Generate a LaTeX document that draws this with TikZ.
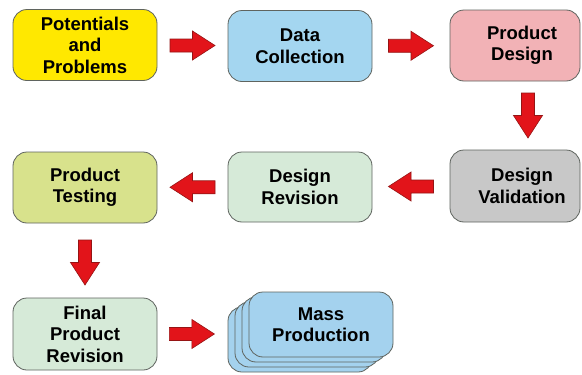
\documentclass[tikz,border=0pt]{standalone}
\usepackage{fontspec}
\setmainfont{Liberation Sans}
\usetikzlibrary{calc}
\definecolor{cyellow}{RGB}{255,232,0}
\definecolor{cblue}{RGB}{164,214,240}
\definecolor{cpink}{RGB}{242,178,182}
\definecolor{cgray}{RGB}{200,200,200}
\definecolor{colive}{RGB}{216,226,140}
\definecolor{cmint}{RGB}{214,234,216}
\definecolor{cmp}{RGB}{164,210,238}
\definecolor{cred}{RGB}{226,20,26}
\definecolor{cdred}{RGB}{150,20,20}
\definecolor{cborder}{RGB}{95,100,95}
\newcommand{\rsh}{\hspace*{14pt}}
\tikzset{
  box/.style={draw=cborder, line width=0.8pt, rounded corners=14pt,
    minimum width=144pt, minimum height=71pt, inner sep=0pt, align=center,
    font=\fontsize{18.5}{21.5}\selectfont\bfseries},
  arrowstyle/.style={fill=cred, draw=cdred, line width=0.6pt, line join=miter},
  blockarrow/.pic={\draw[arrowstyle] (-22.5,-6.5) -- (0,-6.5) -- (0,-14.5) -- (22.5,0) -- (0,14.5) -- (0,6.5) -- (-22.5,6.5) -- cycle;}
}
\begin{document}
\begin{tikzpicture}[x=1pt,y=-1pt]
\useasboundingbox[fill=white] (0,0) rectangle (582,375);
% row 1
\node[box, fill=cyellow] (pp) at (85,45) {Potentials\\and\\Problems};
\node[box, fill=cblue] (dc) at (300,46) {Data\\Collection};
\node[box, fill=cpink, minimum width=130pt] (pd) at (515,45.5) {\rsh Product\\\rsh Design};
% row 2
\node[box, fill=cgray, minimum width=130pt, minimum height=72pt] (dv) at (515,186) {\rsh Design\\\rsh Validation};
\node[box, fill=cmint, minimum height=70pt] (dr) at (300,187) {Design\\Revision};
\node[box, fill=colive] (pt) at (85,187.5) {Product\\Testing};
% row 3
\node[box, fill=cmint, minimum height=72pt] (fr) at (85,334) {Final\\Product\\Revision};
\foreach \k in {3,2,1}{
  \node[box, fill=cmp, minimum height=65pt] at ({321-7*\k},{324.5+5*\k}) {};
}
\node[box, fill=cmp, minimum height=65pt] (mp) at (321,324.5) {Mass\\Production};
% arrows
\pic at ($(pp.east)!0.5!(dc.west)$) {blockarrow};
\pic at ($(dc.east)!0.5!(pd.west)$) {blockarrow};
\pic[rotate=-90] at ($(pd.south)!0.5!(dv.north)+(13,0)$) {blockarrow};
\pic[rotate=180] at ($(dv.west)!0.5!(dr.east)$) {blockarrow};
\pic[rotate=180] at ($(dr.west)!0.5!(pt.east)$) {blockarrow};
\pic[rotate=-90] at ($(pt.south)!0.5!(fr.north)+(0,2)$) {blockarrow};
\pic at ($(fr.east)+(34.5,0)$) {blockarrow};
\end{tikzpicture}
\end{document}
